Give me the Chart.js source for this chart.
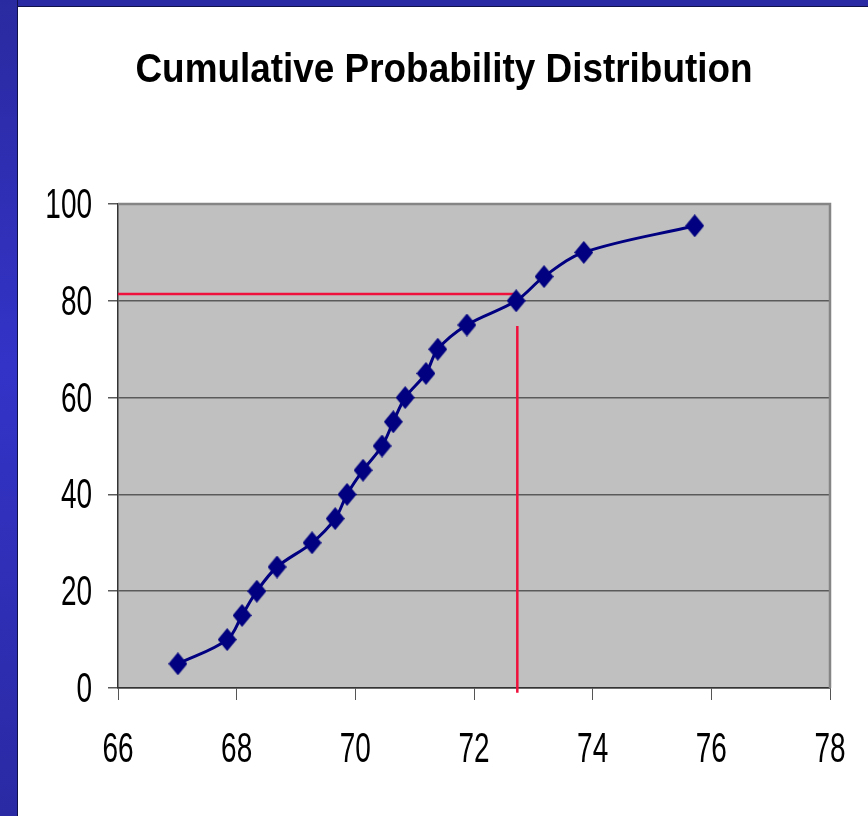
<!DOCTYPE html>
<html>
<head>
<meta charset="utf-8">
<script src="https://cdn.jsdelivr.net/npm/chart.js@4"></script>
<style>
    html, body { margin: 0; padding: 0; background: #fff; }
    body { width: 868px; height: 816px; position: relative; overflow: hidden; }
    #bandTop { position: absolute; left: 0; top: 0; width: 868px; height: 6px; background: #2a2aa4; border-bottom: 1px solid #10104a; }
    #bandLeft { position: absolute; left: 0; top: 0; width: 17px; height: 816px;
        background: linear-gradient(to bottom, #2a2aa0 0%, #3333c8 45%, #2a2aa4 100%); border-right: 1px solid #10104a; }
    #wrap { position: absolute; left: 18px; top: 7px; width: 850px; height: 809px; }
</style>
</head>
<body>
<div id="bandTop"></div>
<div id="bandLeft"></div>
<div id="wrap"><canvas id="cdfChart"></canvas></div>
<script>
// values
const heights = [67.01, 67.84, 68.09, 68.34, 68.68, 69.27, 69.66, 69.86, 70.13, 70.45,
                 70.64, 70.84, 71.19, 71.39, 71.88, 72.71, 73.18, 73.85, 75.72];
const cumPercent = [5, 10, 15, 20, 25, 30, 35, 40, 45, 50,
                    55, 60, 65, 70, 75, 80, 85, 90, 95.5];
const xTicks = [66, 68, 70, 72, 74, 76, 78];
const yTicks = [0, 20, 40, 60, 80, 100];
const titleText = 'Cumulative Probability Distribution';

// red read-off lines
const refX = 72.73;
const refY = 81.4;
const refVertTop = 74.8;
const refVertBottom = -1;

const FONT = "'Liberation Sans', Arial, sans-serif";

// no narrow font installed, so squeeze the text horizontally
function squeezedText(ctx, text, x, y, font, sx, align) {
    ctx.save();
    ctx.font = font;
    ctx.fillStyle = '#000';
    ctx.textBaseline = 'alphabetic';
    const w = ctx.measureText(text).width * sx;
    let left = x;
    if (align === 'center') left = x - w / 2;
    if (align === 'right') left = x - w;
    ctx.translate(left, y);
    ctx.scale(sx, 1);
    ctx.textAlign = 'left';
    ctx.fillText(text, 0, 0);
    ctx.restore();
}

// diamond marker, a bit taller than wide like the excel one
function makeDiamond(w, h, color) {
    const c = document.createElement('canvas');
    c.width = w;
    c.height = h;
    const g = c.getContext('2d');
    g.fillStyle = color;
    g.beginPath();
    g.moveTo(w / 2, 0);
    g.lineTo(w, h / 2);
    g.lineTo(w / 2, h);
    g.lineTo(0, h / 2);
    g.closePath();
    g.fill();
    return c;
}

const plotDecor = {
    id: 'plotDecor',
    beforeDraw(chart) {
        const { ctx, chartArea: a } = chart;
        ctx.save();
        ctx.fillStyle = '#c0c0c0';
        ctx.fillRect(a.left, a.top, a.right - a.left, a.bottom - a.top);
        ctx.restore();
    },
    beforeDatasetsDraw(chart) {
        // grey frame on top and right of the plot area
        const { ctx, chartArea: a } = chart;
        ctx.save();
        ctx.strokeStyle = '#858585';
        ctx.lineWidth = 2.5;
        ctx.beginPath();
        ctx.moveTo(a.left, a.top);
        ctx.lineTo(a.right, a.top);
        ctx.lineTo(a.right, a.bottom);
        ctx.stroke();
        ctx.restore();
    },
    afterDraw(chart) {
        const { ctx, chartArea: a, scales } = chart;
        const tickFont = '43px ' + FONT;
        scales.x.ticks.forEach(t => {
            squeezedText(ctx, String(t.value), scales.x.getPixelForValue(t.value), a.bottom + 74, tickFont, 0.65, 'center');
        });
        scales.y.ticks.forEach(t => {
            squeezedText(ctx, String(t.value), a.left - 26, scales.y.getPixelForValue(t.value) + 14, tickFont, 0.65, 'right');
        });
        squeezedText(ctx, titleText, chart.width / 2 + 1, 75, 'bold 41px ' + FONT, 0.9, 'center');
    }
};

const points = heights.map((x, i) => ({ x, y: cumPercent[i] }));
const diamond = makeDiamond(19, 23, '#000080');

const ctx = document.getElementById('cdfChart').getContext('2d');
new Chart(ctx, {
    type: 'scatter',
    data: {
        datasets: [
            {
                label: 'Cumulative %',
                data: points,
                showLine: true,
                borderColor: '#000080',
                backgroundColor: '#000080',
                borderWidth: 3,
                tension: 0.35,
                pointStyle: diamond,
                pointRadius: 10,
                order: 1
            },
            {
                label: 'h',
                data: [{ x: xTicks[0], y: refY }, { x: refX, y: refY }],
                showLine: true,
                borderColor: '#f0103c',
                borderWidth: 2.5,
                pointRadius: 0,
                order: 2
            },
            {
                label: 'v',
                data: [{ x: refX, y: refVertTop }, { x: refX, y: refVertBottom }],
                showLine: true,
                borderColor: '#f0103c',
                borderWidth: 2.5,
                pointRadius: 0,
                clip: false,
                order: 2
            }
        ]
    },
    options: {
        responsive: true,
        maintainAspectRatio: false,
        animation: false,
        layout: { padding: { left: 0, right: 38, top: 197, bottom: 46 } },
        plugins: {
            legend: { display: false },
            tooltip: { enabled: false },
            title: { display: false }
        },
        scales: {
            x: {
                type: 'linear',
                min: xTicks[0],
                max: xTicks[xTicks.length - 1],
                afterBuildTicks: (scale) => { scale.ticks = xTicks.map(v => ({ value: v })); },
                afterFit: (scale) => { scale.height = 82; },
                ticks: { display: false },
                grid: {
                    drawOnChartArea: false,
                    drawTicks: true,
                    tickLength: 12,
                    color: '#555'
                },
                border: { color: '#333', width: 1.5 }
            },
            y: {
                min: yTicks[0],
                max: yTicks[yTicks.length - 1],
                afterBuildTicks: (scale) => { scale.ticks = yTicks.map(v => ({ value: v })); },
                afterFit: (scale) => { scale.width = 100; },
                ticks: { display: false },
                grid: {
                    drawOnChartArea: true,
                    drawTicks: true,
                    tickLength: 10,
                    color: '#5a5a5a',
                    lineWidth: 1.5
                },
                border: { color: '#333', width: 1.5 }
            }
        }
    },
    plugins: [plotDecor]
});
</script>
</body>
</html>
